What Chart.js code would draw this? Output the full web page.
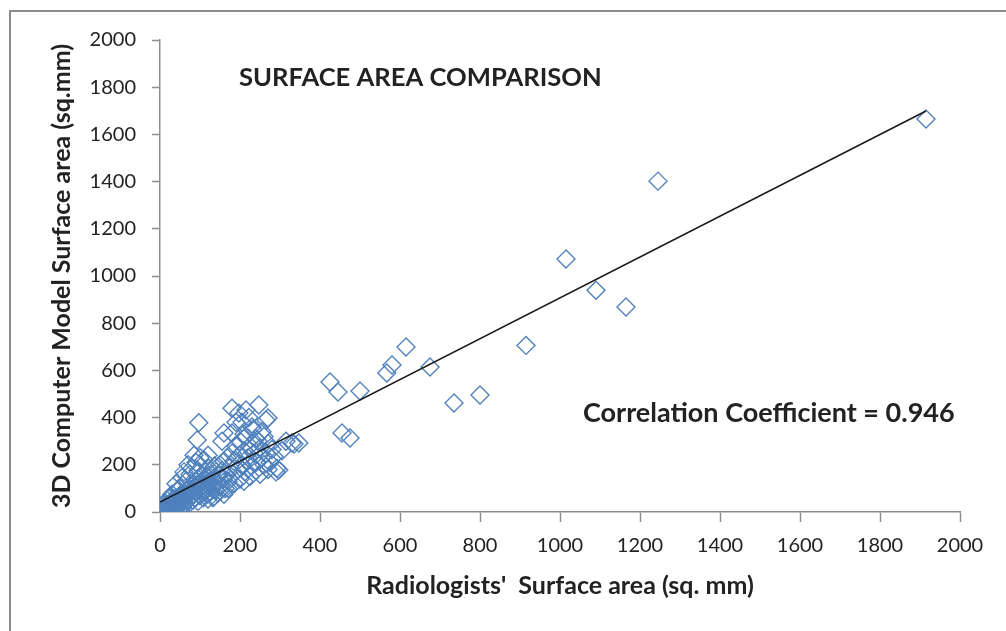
<!DOCTYPE html>
<html>
<head>
<meta charset="utf-8">
<script src="https://cdn.jsdelivr.net/npm/chart.js@4/dist/chart.umd.min.js"></script>
<style>
  html, body { margin: 0; padding: 0; background: #fff; }
  #wrap { width: 1006px; height: 631px; }
</style>
</head>
<body>
<div id="wrap"><canvas id="surfaceChart" width="1006" height="631"></canvas></div>
<script>
// Radiologists' surface area (x) vs 3D computer model surface area (y), sq. mm
const radiologistArea = [
  2, 4, 6, 8, 10, 12, 14, 15, 17, 19, 20, 22, 24, 25, 27, 29, 30, 32, 34, 35,
  37, 38, 40, 42, 44, 45, 47, 49, 50, 52, 54, 55, 57, 59, 60, 12, 18, 25, 8, 30,
  62, 63, 65, 67, 68, 70, 72, 73, 75, 76, 78, 80, 82, 83, 85, 86, 88, 90, 91, 93,
  95, 96, 98, 100, 101, 103, 105, 106, 108, 110, 112, 113, 115, 117, 118, 120, 122, 124, 126, 128,
  130, 132, 134, 136, 138, 140, 142, 145, 147, 150, 152, 155, 158, 160, 163, 165, 168, 170,
  40, 50, 55, 65, 75, 80, 90, 95, 100, 70, 60, 85, 110, 120, 45,
  175, 180, 182, 185, 190, 195, 198, 200, 205, 210, 212, 215, 220, 225, 228, 232, 235, 240, 245, 250,
  255, 260, 265, 270, 275, 280, 285, 290, 292, 297, 305, 315, 330, 335, 347,
  155, 160, 180, 180, 197, 215, 222, 247, 265, 270, 230, 205, 190, 240, 255, 210, 93, 97,
  120, 135, 150, 170, 160, 185, 200, 210, 225, 240, 250, 260, 270,
  425, 445, 455, 475, 500, 567, 580, 615, 675, 735, 800, 915, 1015, 1090, 1165, 1245, 1915
];
const modelArea = [
  3, 10, 2, 15, 6, 22, 9, 30, 12, 4, 25, 18, 35, 8, 28, 45, 15, 38, 22, 55,
  30, 12, 48, 35, 60, 20, 42, 70, 30, 52, 40, 18, 65, 48, 80, 40, 50, 60, 30, 75,
  35, 58, 90, 45, 72, 100, 55, 85, 40, 110, 65, 95, 50, 120, 75, 105, 60, 130, 85, 115,
  45, 140, 95, 70, 125, 155, 80, 110, 60, 140, 90, 170, 120, 75, 150, 100, 185, 130, 85, 160,
  110, 60, 140, 195, 95, 170, 125, 80, 155, 200, 110, 175, 140, 215, 100, 160, 230, 130,
  120, 100, 145, 130, 160, 185, 210, 175, 230, 200, 170, 240, 220, 240, 95,
  190, 250, 160, 215, 280, 180, 240, 300, 200, 260, 170, 320, 230, 280, 195, 350, 250, 210, 300, 270,
  230, 320, 250, 290, 210, 265, 235, 170, 185, 178, 260, 300, 292, 288, 292,
  300, 335, 335, 440, 419, 432, 400, 453, 390, 398, 360, 380, 380, 310, 340, 330, 305, 378,
  55, 65, 90, 100, 75, 120, 140, 130, 150, 175, 160, 200, 180,
  551, 508, 335, 314, 513, 589, 623, 699, 614, 462, 496, 706, 1072, 940, 869, 1402, 1665
];

// linear trend line end points
const trendX = [0, 1915];
const trendY = [42, 1699];

const xTicks = [0, 200, 400, 600, 800, 1000, 1200, 1400, 1600, 1800, 2000];
const yTicks = [0, 200, 400, 600, 800, 1000, 1200, 1400, 1600, 1800, 2000];

const chartTitle = "SURFACE AREA COMPARISON";
const corrLabel = "Correlation Coefficient = 0.946";

const points = radiologistArea.map((x, i) => ({ x: x, y: modelArea[i] }));
const trend = trendX.map((x, i) => ({ x: x, y: trendY[i] }));

const axisGrey = "#8c8c8c";
const textColor = "#222";

// frame + text labels inside the plot
const annotations = {
  id: "annotations",
  beforeDraw(chart) {
    const c = chart.ctx;
    c.save();
    c.strokeStyle = "#8c8c8c";
    c.lineWidth = 2;
    c.strokeRect(10, 11, 1010, 640);
    c.restore();
  },
  afterDraw(chart) {
    const c = chart.ctx;
    const a = chart.chartArea;
    c.save();
    c.fillStyle = textColor;
    c.textBaseline = "middle";
    c.textAlign = "left";
    c.font = "bold 25.6px Lato";
    c.fillText(chartTitle, a.left + 79, a.top + 38);
    c.font = "bold 27px Lato";
    c.fillText(corrLabel, a.left + 423, a.top + 373);
    c.restore();
  }
};

new Chart(document.getElementById("surfaceChart").getContext("2d"), {
  type: "scatter",
  data: {
    datasets: [
      {
        type: "line",
        label: "Trend",
        data: trend,
        borderColor: "#1a1a1a",
        borderWidth: 1.6,
        pointRadius: 0,
        fill: false,
        order: 0
      },
      {
        label: "Surface area",
        data: points,
        pointStyle: "rectRot",
        pointRadius: 9,
        pointHoverRadius: 9,
        borderColor: "#4f81bd",
        backgroundColor: "rgba(0,0,0,0)",
        borderWidth: 1.4,
        order: 1
      }
    ]
  },
  options: {
    responsive: false,
    animation: false,
    layout: { padding: { left: 43, top: 40, right: 46, bottom: 26 } },
    plugins: {
      legend: { display: false },
      tooltip: { enabled: false }
    },
    scales: {
      x: {
        type: "linear",
        min: 0,
        max: 2000,
        afterBuildTicks(scale) { scale.ticks = xTicks.map(v => ({ value: v })); },
        afterFit(scale) { scale.height = 93; },
        ticks: {
          color: textColor,
          font: { family: "Lato", size: 20 },
          padding: 12,
          maxRotation: 0,
          callback: v => String(v)
        },
        grid: { drawOnChartArea: false, drawTicks: true, tickLength: 10, color: axisGrey, tickWidth: 1.5 },
        border: { color: axisGrey, width: 1.5 },
        title: {
          display: true,
          text: "Radiologists'  Surface area (sq. mm)",
          color: textColor,
          font: { family: "Lato", size: 25, weight: "bold" }
        }
      },
      y: {
        type: "linear",
        min: 0,
        max: 2000,
        afterBuildTicks(scale) { scale.ticks = yTicks.map(v => ({ value: v })); },
        afterFit(scale) { scale.width = 117; },
        ticks: {
          color: textColor,
          font: { family: "Lato", size: 20 },
          padding: 16,
          callback: v => String(v)
        },
        grid: { drawOnChartArea: false, drawTicks: true, tickLength: 8, color: axisGrey, tickWidth: 1.5 },
        border: { color: axisGrey, width: 1.5 },
        title: {
          display: true,
          text: "3D Computer Model Surface area (sq.mm)",
          color: textColor,
          font: { family: "Lato", size: 25, weight: "bold" }
        }
      }
    }
  },
  plugins: [annotations]
});
</script>
</body>
</html>
